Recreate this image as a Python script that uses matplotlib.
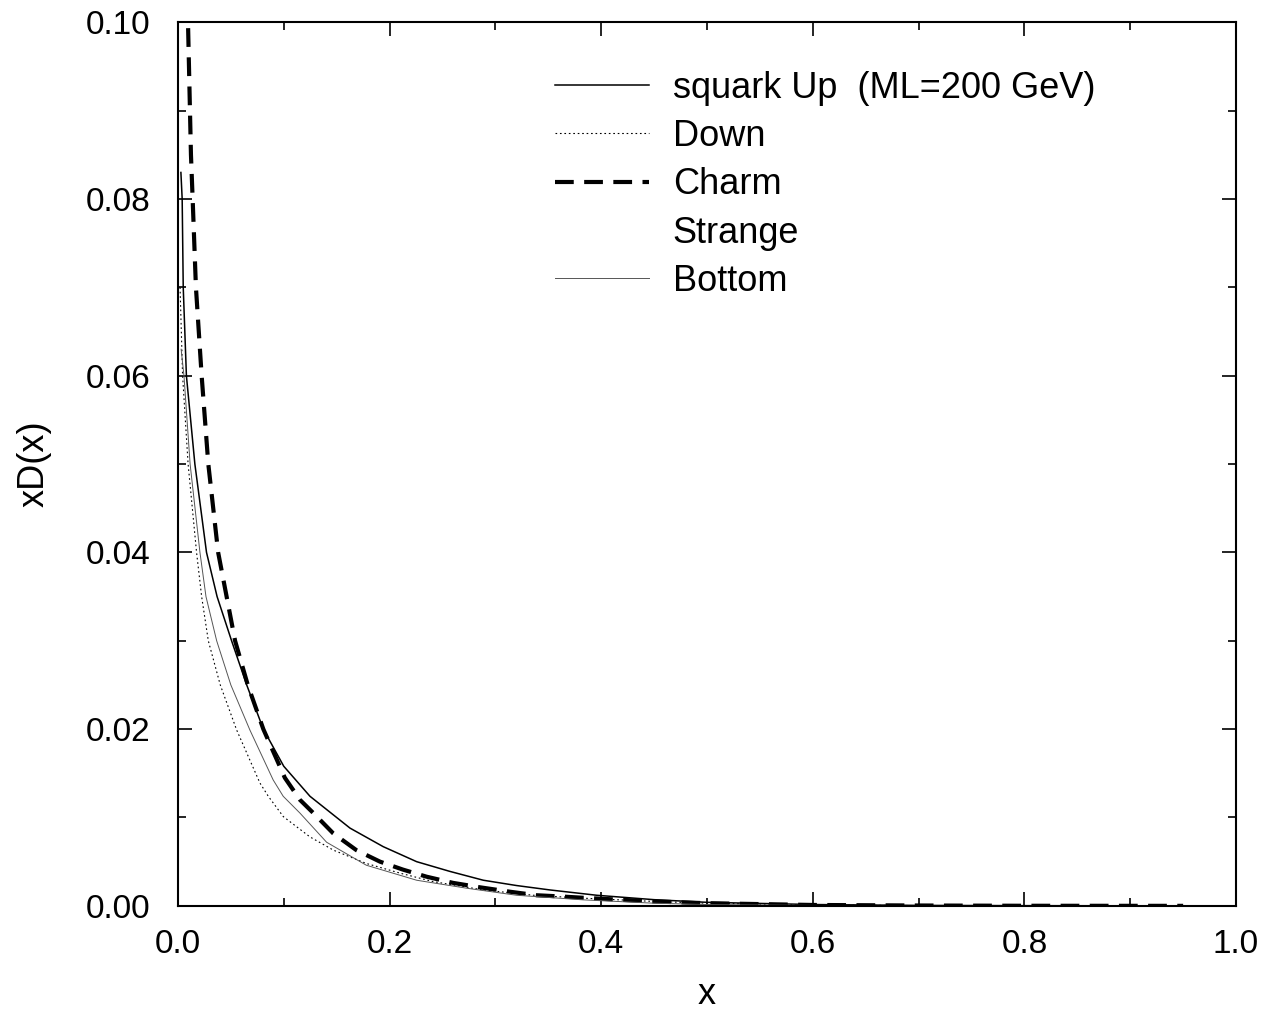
import matplotlib
matplotlib.use("Agg")
import matplotlib.pyplot as plt

plt.rcParams["font.family"] = ["Liberation Sans", "DejaVu Sans"]

# squark Up (solid)
x_up = [0.0028, 0.004, 0.005, 0.008, 0.016, 0.027, 0.037, 0.0507, 0.065, 0.0807, 0.1,
        0.1248, 0.1626, 0.194, 0.2256, 0.257, 0.2886, 0.32, 0.3516, 0.3957, 0.45, 0.5,
        0.6, 0.7, 0.8, 0.95]
y_up = [0.083, 0.080, 0.070, 0.060, 0.050, 0.040, 0.035, 0.030, 0.025, 0.020, 0.0158,
        0.0124, 0.0088, 0.0067, 0.0050, 0.0039, 0.0029, 0.0023, 0.0018, 0.0012, 0.0007,
        0.0004, 0.00015, 0.00005, 0.00002, 0.0]

# Down (dotted)
x_down = [0.002, 0.0044, 0.0096, 0.0176, 0.0224, 0.0287, 0.04, 0.0555, 0.0775, 0.0854,
          0.0996, 0.1248, 0.147, 0.178, 0.21, 0.241, 0.2886, 0.336, 0.383, 0.45, 0.5,
          0.6, 0.7, 0.8, 0.95]
y_down = [0.070, 0.060, 0.050, 0.040, 0.035, 0.030, 0.025, 0.0199, 0.0139, 0.0124,
          0.0101, 0.0078, 0.0063, 0.0048, 0.0037, 0.00275, 0.0018, 0.0012, 0.00087,
          0.0005, 0.0003, 0.0001, 0.00003, 0.00001, 0.0]

# Charm (dashed)
x_charm = [0.0085, 0.0095, 0.0123, 0.0139, 0.017, 0.0224, 0.0287, 0.038, 0.046, 0.054,
           0.066, 0.0807, 0.101, 0.1153, 0.128, 0.1468, 0.1687, 0.191, 0.2127, 0.235,
           0.26, 0.2854, 0.3138, 0.339, 0.364, 0.389, 0.45, 0.5, 0.6, 0.7, 0.8, 0.95]
y_charm = [0.106, 0.100, 0.085, 0.080, 0.070, 0.060, 0.050, 0.040, 0.035, 0.030,
           0.025, 0.020, 0.0145, 0.012, 0.0105, 0.0082, 0.0063, 0.0050, 0.0041, 0.0033,
           0.0026, 0.0021, 0.0016, 0.0012, 0.00105, 0.00087, 0.0005, 0.0003, 0.0001,
           0.00004, 0.00001, 0.0]

# Bottom (thin grey)
x_bottom = [0.003, 0.0057, 0.0115, 0.0208, 0.0265, 0.0366, 0.05, 0.068, 0.09, 0.0995,
            0.1153, 0.1405, 0.178, 0.2256, 0.2727, 0.32, 0.383, 0.45, 0.5, 0.6, 0.8, 0.95]
y_bottom = [0.063, 0.060, 0.050, 0.040, 0.035, 0.030, 0.025, 0.0199, 0.01425, 0.0124,
            0.0105, 0.0072, 0.0046, 0.0029, 0.0020, 0.0012, 0.00068, 0.0003, 0.00015,
            0.00005, 0.0, 0.0]

fig = plt.figure(figsize=(12.71, 10.11), dpi=100)
ax = fig.add_axes([0.140, 0.104, 0.8325, 0.874])

ax.plot(x_up, y_up, color="black", lw=1.1, label="squark Up  (ML=200 GeV)")
ax.plot(x_down, y_down, color="black", lw=0.8, linestyle=(0, (1.5, 2.5)), label="Down")
ax.plot(x_charm, y_charm, color="black", lw=3, linestyle=(0, (4.5, 2.5)), label="Charm")
ax.plot([], [], color="white", lw=1, label="Strange")
ax.plot(x_bottom, y_bottom, color="#555555", lw=0.7, label="Bottom")

ax.set_xlim(0, 1.0)
ax.set_ylim(0, 0.10)
ax.set_xticks([0.0, 0.2, 0.4, 0.6, 0.8, 1.0])
ax.set_xticks([0.1, 0.3, 0.5, 0.7, 0.9], minor=True)
ax.set_yticks([0.00, 0.02, 0.04, 0.06, 0.08, 0.10])
ax.set_yticks([0.01, 0.03, 0.05, 0.07, 0.09], minor=True)
ax.set_xticklabels(["0.0", "0.2", "0.4", "0.6", "0.8", "1.0"])
ax.set_yticklabels(["0.00", "0.02", "0.04", "0.06", "0.08", "0.10"])
ax.tick_params(which="both", direction="in", top=True, right=True, labelsize=24, width=1.2)
ax.tick_params(which="major", length=10)
ax.tick_params(axis="x", which="major", pad=17)
ax.tick_params(axis="y", which="major", pad=20)
ax.tick_params(which="minor", length=5.5)
for s in ax.spines.values():
    s.set_linewidth(1.5)

ax.set_xlabel("x", fontsize=26, labelpad=12)
ax.set_ylabel("xD(x)", fontsize=26, labelpad=24)

ax.legend(loc="upper left", bbox_to_anchor=(0.326, 0.982), frameon=False, fontsize=26,
          handlelength=2.6, handletextpad=0.65, labelspacing=0.37)

fig.savefig("out.png", dpi=100)
